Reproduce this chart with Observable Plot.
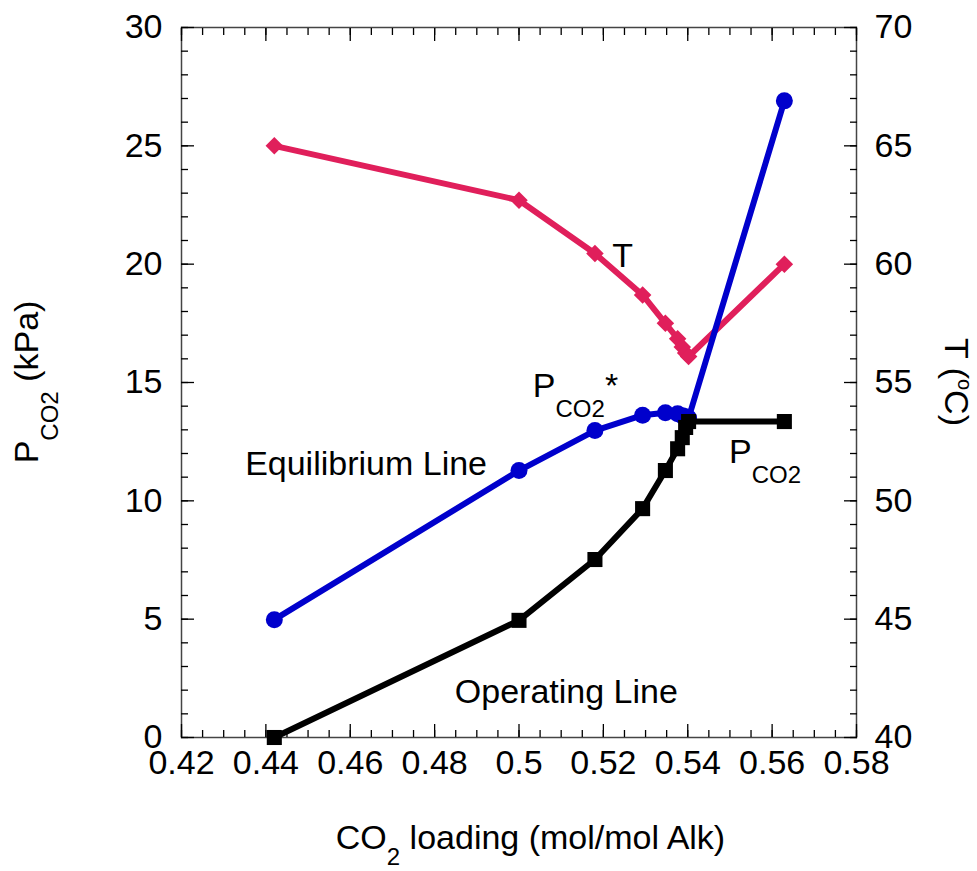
<!DOCTYPE html>
<html>
<head>
<meta charset="utf-8">
<script src="https://cdn.jsdelivr.net/npm/d3@7"></script>
<script src="https://cdn.jsdelivr.net/npm/@observablehq/plot@0.6"></script>
<style>
  body { margin: 0; background: #fff; }
  #chart svg text { font-family: "Liberation Sans", Arial, sans-serif; }
</style>
</head>
<body>
<div id="chart"></div>
<script>
// CO2 loading along the absorber (mol CO2 / mol alkalinity)
const loading = [0.442, 0.5, 0.518, 0.5293, 0.5347, 0.5376, 0.5387, 0.5395, 0.5402, 0.5629];
// Equilibrium partial pressure P*CO2 (kPa)
const pco2Equilibrium = [4.98, 11.28, 12.97, 13.62, 13.72, 13.68, 13.6, 13.55, 13.5, 26.9];
// Operating partial pressure PCO2 (kPa)
const pco2Operating = [0, 4.95, 7.52, 9.67, 11.28, 12.2, 12.67, 13.1, 13.35, 13.35];
// Liquid temperature (°C)
const temperature = [65.0, 62.7, 60.45, 58.7, 57.5, 56.85, 56.5, 56.25, 56.1, 60.0];

// Axis ticks
const xMajorTicks = [0.42, 0.44, 0.46, 0.48, 0.5, 0.52, 0.54, 0.56, 0.58];
const xMinorTicks = d3.range(84, 117).map(i => i / 200);
const pMajorTicks = [0, 5, 10, 15, 20, 25, 30];
const pMinorTicks = d3.range(0, 31);
const tMajorTicks = [40, 45, 50, 55, 60, 65, 70];

// Curve labels, placed in data coordinates (left edge, baseline)
const curveLabels = [
  { x: 0.5222, y: 19.85, parts: [["T"]] },
  { x: 0.5034, y: 14.36, parts: [["P"], ["CO2", "sub"], ["*"]] },
  { x: 0.4352, y: 11.05, parts: [["Equilibrium Line"]] },
  { x: 0.5499, y: 11.58, parts: [["P"], ["CO2", "sub"]] },
  { x: 0.4849, y: 1.45, parts: [["Operating Line"]] }
];

const pDomain = [0, 30];
const tDomain = [40, 70];
// temperature shares the plot's y scale through a linear map onto the kPa range
const tToP = t => pDomain[0] + (t - tDomain[0]) / (tDomain[1] - tDomain[0]) * (pDomain[1] - pDomain[0]);
const pToT = p => tDomain[0] + (p - pDomain[0]) / (pDomain[1] - pDomain[0]) * (tDomain[1] - tDomain[0]);

const rows = loading.map((x, i) => ({
  x,
  eq: pco2Equilibrium[i],
  op: pco2Operating[i],
  t: tToP(temperature[i])
}));

const BLUE = "#0000cc", RED = "#e01f5b", BLACK = "#000";
const fmtX = d => String(+d.toFixed(3));
const blank = () => "";

const plot = Plot.plot({
  width: 977,
  height: 871,
  marginLeft: 181,
  marginRight: 121,
  marginTop: 27,
  marginBottom: 134,
  style: { fontFamily: "'Liberation Sans', Arial, sans-serif", fontSize: "34px", background: "#fff", color: "#000" },
  x: { domain: [0.42, 0.58] },
  y: { domain: pDomain },
  marks: [
    Plot.frame({ stroke: "#444", strokeWidth: 1.5 }),
    // inward ticks on all four sides
    Plot.axisX(xMinorTicks, { anchor: "bottom", tickSize: -7, tickFormat: blank, label: null, strokeWidth: 1.3 }),
    Plot.axisX(xMajorTicks, { anchor: "bottom", tickSize: -13, tickFormat: blank, label: null, strokeWidth: 1.3 }),
    Plot.axisX(xMinorTicks, { anchor: "top", tickSize: -7, tickFormat: blank, label: null, strokeWidth: 1.3 }),
    Plot.axisX(xMajorTicks, { anchor: "top", tickSize: -13, tickFormat: blank, label: null, strokeWidth: 1.3 }),
    Plot.axisY(pMinorTicks, { anchor: "left", tickSize: -7, tickFormat: blank, label: null, strokeWidth: 1.3 }),
    Plot.axisY(pMajorTicks, { anchor: "left", tickSize: -13, tickFormat: blank, label: null, strokeWidth: 1.3 }),
    Plot.axisY(pMinorTicks, { anchor: "right", tickSize: -7, tickFormat: blank, label: null, strokeWidth: 1.3 }),
    Plot.axisY(pMajorTicks, { anchor: "right", tickSize: -13, tickFormat: blank, label: null, strokeWidth: 1.3 }),
    // tick labels
    Plot.axisX(xMajorTicks, { anchor: "bottom", tickSize: 0, tickPadding: 12, tickFormat: fmtX, label: null }),
    Plot.axisY(pMajorTicks, { anchor: "left", tickSize: 0, tickPadding: 19, label: null }),
    Plot.axisY(tMajorTicks.map(tToP), { anchor: "right", tickSize: 0, tickPadding: 18, tickFormat: p => String(Math.round(pToT(p))), label: null }),

    // temperature profile
    Plot.line(rows, { x: "x", y: "t", stroke: RED, strokeWidth: 6, strokeLinejoin: "round" }),
    Plot.dot(rows, { x: "x", y: "t", symbol: "square", rotate: 45, r: 7, fill: RED }),
    // equilibrium line
    Plot.line(rows, { x: "x", y: "eq", stroke: BLUE, strokeWidth: 6, strokeLinejoin: "round" }),
    Plot.dot(rows, { x: "x", y: "eq", symbol: "circle", r: 8.5, fill: BLUE }),
    // operating line
    Plot.line(rows, { x: "x", y: "op", stroke: BLACK, strokeWidth: 6, strokeLinejoin: "round" }),
    Plot.dot(rows, { x: "x", y: "op", symbol: "square", r: 8.5, fill: BLACK })
  ]
});

document.getElementById("chart").appendChild(plot);

// Rich text (subscripts / superscripts) for curve labels and axis titles
const svg = d3.select(plot);
const sx = plot.scale("x"), sy = plot.scale("y");
const SUB_SIZE = 24;

function richText(sel, parts, subShift = 20) {
  let shift = 0;
  for (const [str, kind] of parts) {
    const target = kind === "sub" ? subShift : kind === "sup" ? -13 : 0;
    const ts = sel.append("tspan").text(str).attr("dy", target - shift);
    if (kind === "sub") ts.attr("font-size", SUB_SIZE);
    if (kind === "sup") ts.attr("font-size", 20);
    shift = target;
  }
  return sel;
}

const labelLayer = svg.append("g")
  .attr("font-size", 34)
  .attr("fill", "#000")
  .attr("text-anchor", "start");
for (const lab of curveLabels) {
  richText(
    labelLayer.append("text").attr("x", sx.apply(lab.x)).attr("y", sy.apply(lab.y)),
    lab.parts
  );
}

const [fx0, fx1] = sx.range;
const [fy0, fy1] = sy.range; // fy0 = bottom, fy1 = top
const midY = (fy0 + fy1) / 2;

// x-axis title
richText(
  labelLayer.append("text")
    .attr("x", (fx0 + fx1) / 2 + 12).attr("y", fy0 + 112)
    .attr("text-anchor", "middle"),
  [["CO"], ["2", "sub"], [" loading (mol/mol Alk)"]],
  16
);

// left y-axis title
richText(
  labelLayer.append("text")
    .attr("transform", `translate(${fx0 - 143},${midY}) rotate(-90)`)
    .attr("text-anchor", "middle"),
  [["P"], ["CO2", "sub"], [" (kPa)"]]
);

// right y-axis title
richText(
  labelLayer.append("text")
    .attr("transform", `translate(${fx1 + 89},${midY}) rotate(90)`)
    .attr("text-anchor", "middle"),
  [["T ("], ["o", "sup"], ["C)"]]
);
</script>
</body>
</html>
